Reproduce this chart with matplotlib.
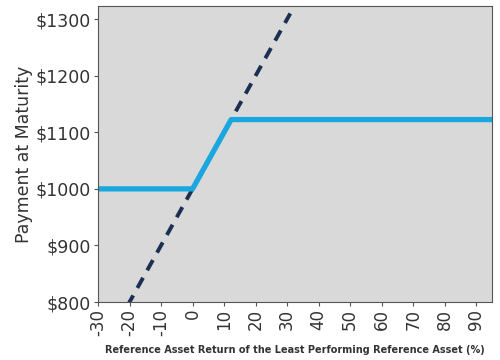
import matplotlib
matplotlib.use("Agg")
import matplotlib.pyplot as plt

# underlying return (%) vs payment at maturity
ref_x = [-30, 31]
ref_y = [700, 1310]
note_x = [-30, 0, 12.25, 95]
note_y = [1000, 1000, 1122.5, 1122.5]
x_ticks = list(range(-30, 91, 10))
y_ticks = [800, 900, 1000, 1100, 1200, 1300]

fig = plt.figure(figsize=(5, 3.6), dpi=100)
ax = fig.add_axes([0.196, 0.161, 0.788, 0.822])
ax.set_facecolor("#d9d9d9")

ax.plot(ref_x, ref_y, color="#1c2f52", lw=2.8, ls=(0, (3, 2.2)))
ax.plot(note_x, note_y, color="#1aa7df", lw=3.8, solid_capstyle="butt")

ax.set_xlim(-30, 95)
ax.set_ylim(800, 1323)
ax.set_xticks(x_ticks)
ax.set_xticklabels([str(t) for t in x_ticks], rotation=90,
                   fontsize=12, color="#333333")
ax.set_yticks(y_ticks)
ax.set_yticklabels(["$%d" % v for v in y_ticks], fontsize=12.5, color="#333333")
ax.tick_params(length=3, color="#555555", pad=2)
for s in ax.spines.values():
    s.set_color("#555555")

ax.set_ylabel("Payment at Maturity", fontsize=12.5, color="#333333", labelpad=2)
ax.set_xlabel("Reference Asset Return of the Least Performing Reference Asset (%)",
              fontsize=7, fontweight="bold", color="#333333")
ax.xaxis.set_label_coords(0.5, -0.145)

fig.savefig("out.png", dpi=100)
